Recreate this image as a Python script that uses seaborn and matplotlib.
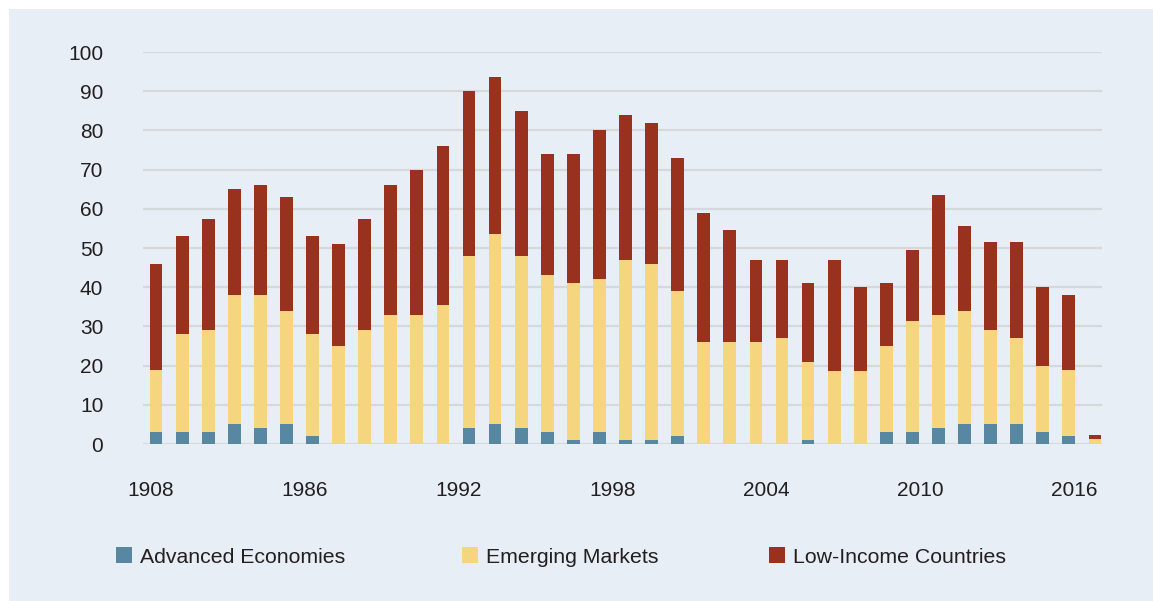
import matplotlib
matplotlib.use("Agg")
import matplotlib.pyplot as plt
from matplotlib.patches import Rectangle, Patch
import seaborn as sns
import pandas as pd
import numpy as np

# ---- data ----
years = list(range(1980, 2017))
advanced = [3, 3, 3, 5, 4, 5, 2, 0, 0, 0, 0, 0, 4, 5, 4, 3, 1, 3, 1, 1, 2,
            0, 0, 0, 0, 1, 0, 0, 3, 3, 4, 5, 5, 5, 3, 2, 0]
emerging = [16, 25, 26, 33, 34, 29, 26, 25, 29, 33, 33, 35.5, 44, 48.5, 44, 40, 40, 39, 46, 45, 37,
            26, 26, 26, 27, 20, 18.5, 18.5, 22, 28.5, 29, 29, 24, 22, 17, 17, 1.2]
low_income = [27, 25, 28.5, 27, 28, 29, 25, 26, 28.5, 33, 37, 40.5, 42, 40, 37, 31, 33, 38, 37, 36, 34,
              33, 28.5, 21, 20, 20, 28.5, 21.5, 16, 18, 30.5, 21.5, 22.5, 24.5, 20, 19, 1]
tick_years = [1980, 1986, 1992, 1998, 2004, 2010, 2016]
tick_labels = ["1908", "1986", "1992", "1998", "2004", "2010", "2016"]
series_names = ["Advanced Economies", "Emerging Markets", "Low-Income Countries"]

# ---- style ----
BG = "#e8eef5"
C_BLUE = "#5787a1"
C_YEL = "#f5d67f"
C_RED = "#98321f"
GRID = "#d6d9dc"
TXT = "#231f20"

sns.set_theme(style="white")
plt.rcParams["font.family"] = ["Liberation Sans", "DejaVu Sans"]

df = pd.DataFrame({"year": [str(y) for y in years],
                   "adv": advanced, "em": emerging, "low": low_income})
df["top_em"] = df["adv"] + df["em"]
df["top_low"] = df["top_em"] + df["low"]

fig = plt.figure(figsize=(11.53, 6.01), dpi=100, facecolor="white")
fig.patches.append(Rectangle((9 / 1153, 0), 1, 1 - 9 / 601, transform=fig.transFigure,
                             facecolor=BG, edgecolor="none", zorder=-10))
ax = fig.add_axes([143 / 1153, 1 - 444 / 601, (1102 - 143) / 1153, (444 - 52) / 601])
ax.set_facecolor("none")

order = df["year"].tolist()
W = 0.49
sns.barplot(data=df, x="year", y="top_low", order=order, color=C_RED, width=W,
            saturation=1, linewidth=0, ax=ax, zorder=2)
sns.barplot(data=df, x="year", y="top_em", order=order, color=C_YEL, width=W,
            saturation=1, linewidth=0, ax=ax, zorder=3)
sns.barplot(data=df, x="year", y="adv", order=order, color=C_BLUE, width=W,
            saturation=1, linewidth=0, ax=ax, zorder=4)

ax.set_ylim(0, 100)
ax.set_xlim(-0.5, len(years) - 1 + 0.27)
ax.set_yticks(np.arange(0, 101, 10))
ax.yaxis.grid(True, color=GRID, linewidth=1.6)
ax.xaxis.grid(False)
ax.set_axisbelow(True)
for s in ax.spines.values():
    s.set_visible(False)

tick_idx = [years.index(y) for y in tick_years]
ax.set_xticks([i * 0.984 - 0.2 for i in tick_idx])
ax.set_xticklabels(tick_labels)
ax.tick_params(axis="x", length=0, pad=26.5, labelsize=15, labelcolor=TXT)
ax.tick_params(axis="y", length=0, pad=28.6, labelsize=15, labelcolor=TXT)
ax.set_xlabel("")
ax.set_ylabel("")

# legend entries
leg_x = [116 / 1153, 462 / 1153, 769 / 1153]
for name, col, lx in zip(series_names, [C_BLUE, C_YEL, C_RED], leg_x):
    lg = fig.legend(handles=[Patch(facecolor=col, edgecolor="none", label=name)],
                    loc="center left", bbox_to_anchor=(lx, 1 - 557 / 601),
                    frameon=False, fontsize=15.3, handlelength=0.75, handleheight=0.75,
                    handletextpad=0.4, borderpad=0, borderaxespad=0)
    for t in lg.get_texts():
        t.set_color(TXT)

fig.savefig("out.png", dpi=100, facecolor="white")
